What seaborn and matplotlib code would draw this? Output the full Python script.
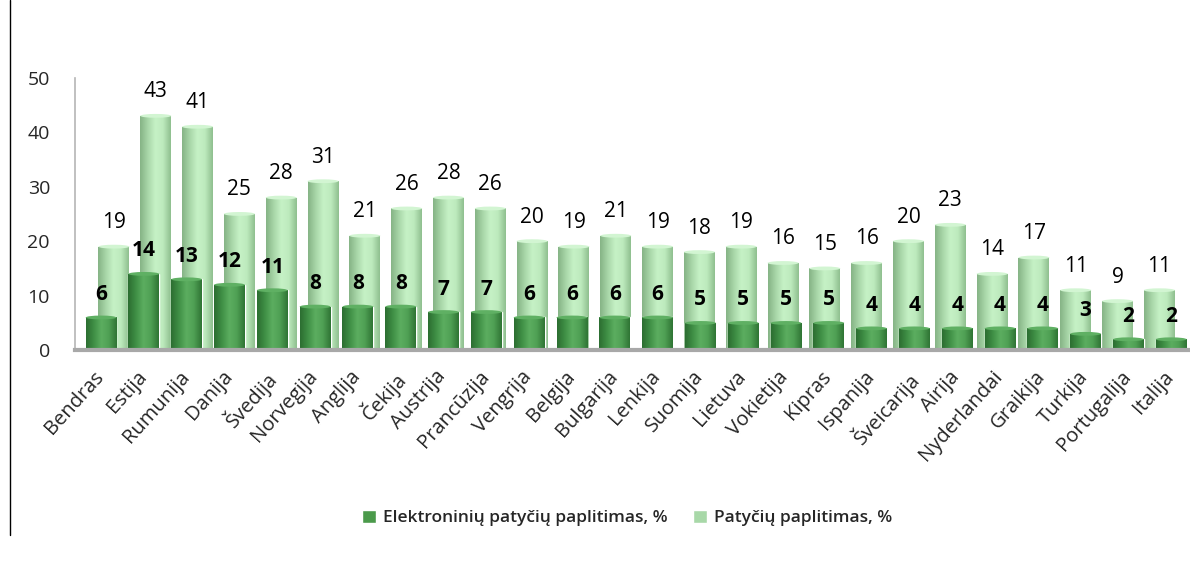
import numpy as np
import seaborn as sns
import matplotlib.pyplot as plt
from matplotlib.colors import LinearSegmentedColormap
from matplotlib.patches import Ellipse, Patch
from matplotlib.lines import Line2D
from matplotlib.transforms import ScaledTranslation

# data
countries = ["Bendras", "Estija", "Rumunija", "Danija", "Švedija", "Norvegija", "Anglija",
             "Čekija", "Austrija", "Prancūzija", "Vengrija", "Belgija", "Bulgarija", "Lenkija",
             "Suomija", "Lietuva", "Vokietija", "Kipras", "Ispanija", "Šveicarija", "Airija",
             "Nyderlandai", "Graikija", "Turkija", "Portugalija", "Italija"]
elektroniniu = [6, 14, 13, 12, 11, 8, 8, 8, 7, 7, 6, 6, 6, 6, 5, 5, 5, 5, 4, 4, 4, 4, 4, 3, 2, 2]
patyciu = [19, 43, 41, 25, 28, 31, 21, 26, 28, 26, 20, 19, 21, 19, 18, 19, 16, 15, 16, 20, 23,
           14, 17, 11, 9, 11]
label_front = "Elektroninių patyčių paplitimas, %"
label_back = "Patyčių paplitimas, %"

sns.set_theme(style="white")
plt.rcParams["font.family"] = ["Open Sans", "DejaVu Sans"]

dark_cmap = LinearSegmentedColormap.from_list(
    "dark", ["#2c6e31", "#3f8f45", "#5cae60", "#4f9f54", "#2f7434"])
light_cmap = LinearSegmentedColormap.from_list(
    "light", ["#86b486", "#a8d6a8", "#c6f2c6", "#bdeabd", "#8fbf8f"])

fig = plt.figure(figsize=(11.9, 5.63), dpi=100)
ax = fig.add_axes([0.063, 0.378, 0.937, 0.484])

# perspective: back row slightly shifted and compressed
pos = np.arange(len(countries), dtype=float)
back_pos = 0.30 + pos * 0.977

sns.barplot(x=back_pos, y=patyciu, native_scale=True, orient="x", width=0.74,
            color="#a8d8a8", errorbar=None, ax=ax, zorder=1)
n_back = len(ax.patches)
sns.barplot(x=pos, y=elektroniniu, native_scale=True, orient="x", width=0.72,
            color="#4b9a4b", errorbar=None, ax=ax, zorder=2)

grad = np.linspace(0, 1, 64).reshape(1, -1)
for k, p in enumerate(ax.patches):
    x0, y0 = p.get_x(), p.get_y()
    w, h = p.get_width(), p.get_height()
    back = k < n_back
    cmap = light_cmap if back else dark_cmap
    z = 1 if back else 2
    im = ax.imshow(grad, cmap=cmap, aspect="auto", extent=(x0, x0 + w, y0, y0 + h),
                   zorder=z + 0.1, interpolation="bicubic")
    im.set_clip_path(p)
    cap = "#d2f5d2" if back else "#5fb063"
    ax.add_patch(Ellipse((x0 + w / 2, y0 + h), w, 0.7, facecolor=cap,
                         edgecolor="none", zorder=z + 0.2))

for x, v in zip(back_pos, patyciu):
    ax.annotate(str(v), (x, v), xytext=(0, 24), textcoords="offset pixels",
                ha="center", va="center", fontsize=15, color="black", zorder=3)
for x, v in zip(pos, elektroniniu):
    ax.annotate(str(v), (x, v), xytext=(0, 23), textcoords="offset pixels",
                ha="center", va="center", fontsize=15, fontweight="bold",
                color="black", zorder=4)

ax.set_xlim(-0.61, 25.44)
ax.set_ylim(0, 50)
ax.set_yticks(range(0, 51, 10))
ax.tick_params(axis="y", labelsize=14, pad=18, length=0)
ax.set_xticks(pos)
ax.set_xticklabels(countries, rotation=48, ha="right", rotation_mode="anchor", fontsize=14.5)
ax.tick_params(axis="x", length=0, pad=12)
shift = ScaledTranslation(-8 / 100, 0, fig.dpi_scale_trans)
for lab in ax.get_xticklabels():
    lab.set_transform(lab.get_transform() + shift)
ax.set_xlabel("")
ax.set_ylabel("")
ax.grid(False)
for s in ["top", "right"]:
    ax.spines[s].set_visible(False)
ax.spines["left"].set_color("#b5b5b5")
ax.spines["left"].set_linewidth(1.2)
ax.spines["bottom"].set_color("#a8a8a8")
ax.spines["bottom"].set_linewidth(3)

handles = [Patch(facecolor="#4b9a4b", label=label_front),
           Patch(facecolor="#a8d8a8", label=label_back)]
fig.legend(handles=handles, loc="center", bbox_to_anchor=(0.527, 0.08), ncol=2,
           frameon=False, handlelength=0.8, handleheight=0.8,
           handletextpad=0.4, columnspacing=1.5,
           prop={"family": ["Open Sans", "DejaVu Sans"], "weight": "semibold", "size": 12.5})

fig.add_artist(Line2D([0.0084, 0.0084], [0.05, 1.0], color="black", lw=1))

fig.savefig("out.png", dpi=100, facecolor="white")
